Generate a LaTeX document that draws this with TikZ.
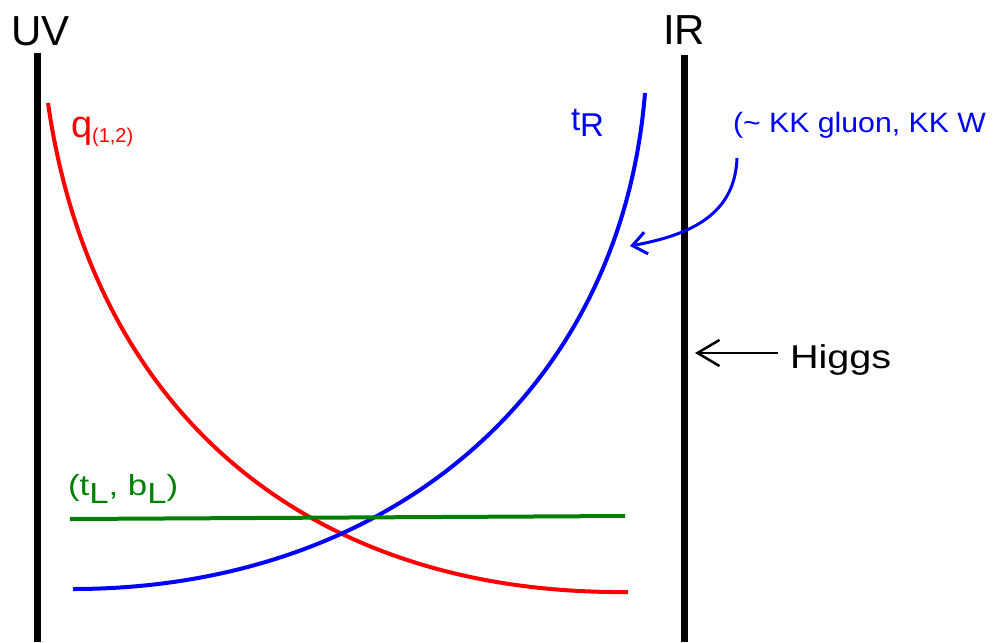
\documentclass[tikz,border=0pt]{standalone}
\usepackage{fontspec}
\usepackage{graphicx}
\setmainfont{Liberation Sans}
\usetikzlibrary{arrows.meta}
\definecolor{cred}{RGB}{255,0,0}
\definecolor{cblue}{RGB}{0,0,255}
\definecolor{cgreen}{RGB}{0,128,0}
\begin{document}
\begin{tikzpicture}[x=1pt,y=-1pt,
  lbl/.style={inner sep=0pt, outer sep=0pt, anchor=base west},
  brane/.style={line width=7pt, black},
  curve/.style={line width=4pt}]
\useasboundingbox (0,0) rectangle (995,642);
% branes
\coordinate (uvtop) at (37.5,53);
\coordinate (uvbot) at (37.5,642);
\coordinate (irtop) at (684,55);
\coordinate (irbot) at (684,642);
\draw[brane] (uvtop) -- (uvbot);
\draw[brane] (irtop) -- (irbot);
\node[lbl] (uv) at (11,46) {\fontsize{42}{48}\selectfont UV};
\node[lbl] (ir) at (663,45) {\fontsize{42}{48}\selectfont IR};
% red curve q
\coordinate (qa) at (48,103);
\coordinate (qb) at (628,592);
\draw[curve, cred] (qa) .. controls (92,410) and (305,595) .. (qb);
% blue curve tR
\coordinate (ta) at (73,589);
\coordinate (tb) at (645,93);
\draw[curve, cblue] (ta) .. controls (380,589) and (620,400) .. (tb);
% green line
\coordinate (gl) at (70,519);
\coordinate (gr) at (625,516);
\draw[curve, cgreen] (gl) -- (gr);
% labels
\node[lbl, text=cred] (q) at (71,137) {\fontsize{38}{44}\selectfont q\raisebox{-5pt}{\fontsize{20}{23}\selectfont(1,2)}};
\node[lbl, text=cblue] (tR) at (571,130) {\fontsize{33}{38}\selectfont t\raisebox{-6pt}{R}};
\node[lbl, text=cgreen] (tL) at (68,495) {\scalebox{1.2}[1]{\fontsize{29}{34}\selectfont(t\raisebox{-8pt}{L}, b\raisebox{-8pt}{L})}};
\node[lbl, text=cblue] (kk) at (733,132) {\scalebox{1.08}[1]{\fontsize{28}{33}\selectfont(\textasciitilde{} KK gluon, KK W}};
\node[lbl] (higgs) at (790,368) {\scalebox{1.2}[1]{\fontsize{33}{38}\selectfont Higgs}};
% arrows
\coordinate (kkstart) at (737,158);
\coordinate (kkend) at (630,246);
\draw[line width=3pt, cblue, -{Straight Barb[length=14pt,width=22pt]}] (kkstart) .. controls (735,215) and (690,235) .. (kkend);
\coordinate (htail) at (778,353);
\coordinate (htip) at (695,353);
\draw[line width=2.5pt, black, -{Straight Barb[length=22pt,width=26pt]}] (htail) -- (htip);
\end{tikzpicture}
\end{document}
